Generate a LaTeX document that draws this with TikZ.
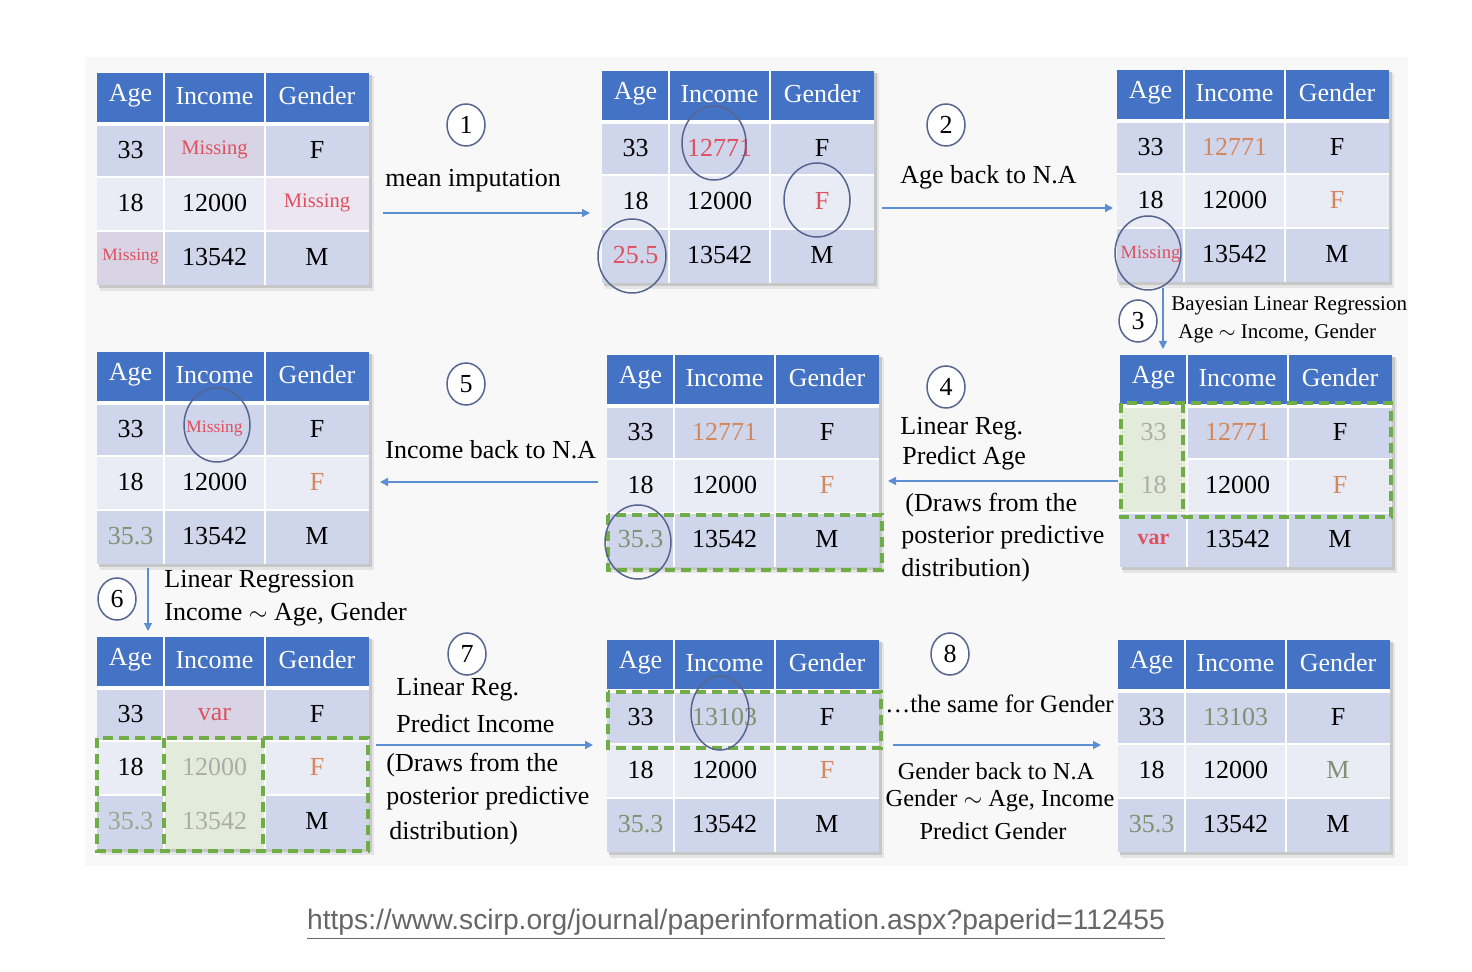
\documentclass[tikz,border=0pt]{standalone}
\usepackage{fontspec}
\setmainfont{Liberation Serif}
\newfontfamily\urlfont{Liberation Sans}
\usetikzlibrary{arrows.meta,calc,shapes.geometric}
\definecolor{hdr}{HTML}{4472C4}
\definecolor{rowa}{HTML}{CFD5EA}
\definecolor{rowb}{HTML}{E9EBF5}
\definecolor{pinka}{HTML}{D8D4E6}
\definecolor{pinkb}{HTML}{EBE6F1}
\definecolor{redt}{HTML}{E0505E}
\definecolor{orgt}{HTML}{D4875A}
\definecolor{grnt}{HTML}{7F9172}
\definecolor{fadet}{HTML}{A9AEA6}
\definecolor{dashg}{HTML}{70AD47}
\definecolor{hlfill}{HTML}{E3ECDA}
\definecolor{ringc}{HTML}{56658F}
\definecolor{arrc}{HTML}{5B8ED3}
\definecolor{urlc}{HTML}{666666}
\definecolor{panel}{HTML}{F8F8F8}
\newcommand\rtx[1]{\textcolor{redt}{#1}}
\newcommand\otx[1]{\textcolor{orgt}{#1}}
\newcommand\gtx[1]{\textcolor{grnt}{#1}}
\newcommand\ftx[1]{\textcolor{fadet}{#1}}
\newcommand\misA{\rtx{\fontsize{10.3}{12}\selectfont Missing}}
\newcommand\misB{\rtx{\fontsize{8.7}{10}\selectfont Missing}}
\newcommand\misC{\rtx{\fontsize{9.3}{11}\selectfont Missing}}
\tikzset{
  cell/.style={font=\fontsize{13}{15}\selectfont, inner sep=0pt},
  hd/.style={cell, text=white},
  lbl/.style={font=\fontsize{13}{15}\selectfont, inner sep=0pt, anchor=west},
  slbl/.style={font=\fontsize{10.5}{12}\selectfont, inner sep=0pt, anchor=west},
  clbl/.style={font=\fontsize{12.2}{13}\selectfont, inner sep=0pt},
  gdash/.style={draw=dashg, line width=2pt, dash pattern=on 5pt off 3pt},
  hl/.style={ellipse, draw=ringc, line width=0.75pt, inner sep=0pt},
  numc/.style={ellipse, draw=ringc, line width=0.75pt, fill=white, inner sep=0pt,
    minimum width=19pt, minimum height=21pt, font=\fontsize{13}{15}\selectfont},
  arr/.style={draw=arrc, line width=0.7pt, -{Triangle[length=4pt,width=4pt]}},
}
\newcommand\mktab[3]{%
  \coordinate (#1) at (#2,#3);
  \begin{scope}[shift={(#2,#3)}]
    \fill[black!10] (3,3) rectangle (277,218);
    \fill[black!22] (2,2) rectangle (275,215);
    \fill[hdr] (0,0) rectangle (272,50);
    \fill[rowa] (0,50) rectangle (272,104);
    \fill[rowb] (0,104) rectangle (272,158);
    \fill[rowa] (0,158) rectangle (272,212);
    \draw[white,line width=1pt] (67,0) -- (67,212) (168,0) -- (168,212)
      (0,104) -- (272,104) (0,158) -- (272,158);
    \draw[white,line width=2pt] (0,51) -- (272,51);
    \node[hd] (#1-h1) at (33.5,23) {Age};
    \node[hd] (#1-h2) at (117.5,23) {Income};
    \node[hd] (#1-h3) at (220,23) {Gender};
    \foreach \cc/\xx in {1/33.5,2/117.5,3/220}{%
      \foreach \rr/\yy in {1/77,2/130,3/184}{%
        \coordinate (#1-p\rr\cc) at (\xx,\yy);}}
  \end{scope}}
\newcommand\trow[5]{%
  \node[cell] (#1-n#21) at (#1-p#21) {#3};
  \node[cell] (#1-n#22) at (#1-p#22) {#4};
  \node[cell] (#1-n#23) at (#1-p#23) {#5};}
\begin{document}
\begin{tikzpicture}[x=0.5pt,y=-0.5pt]
\useasboundingbox (0,0) rectangle (1472,972);
\fill[white] (0,0) rectangle (1472,972);
\fill[panel] (85,57) rectangle (1408,866);

% tables
\mktab{T1}{97}{73}
\mktab{T2}{602}{71}
\mktab{T3}{1117}{70}
\mktab{T4}{97}{352}
\mktab{T5}{607}{355}
\mktab{T6}{1120}{355}
\mktab{T7}{97}{637}
\mktab{T8}{607}{640}
\mktab{T9}{1118}{640}

% tints
\begin{scope}[shift={(97,73)}]
  \fill[pinka] (68,53) rectangle (167,103);
  \fill[pinkb] (169,105) rectangle (272,157);
  \fill[pinka] (0,159) rectangle (66,212);
\end{scope}
\begin{scope}[shift={(1120,355)}]
  \fill[hlfill] (0,53) rectangle (66,157);
\end{scope}
\begin{scope}[shift={(97,637)}]
  \fill[pinka] (68,53) rectangle (167,103);
  \fill[hlfill] (68,105) rectangle (167,212);
\end{scope}

% cell contents
\trow{T1}{1}{33}{\misA}{F}
\trow{T1}{2}{18}{12000}{\misA}
\trow{T1}{3}{\misB}{13542}{M}

\trow{T2}{1}{33}{\rtx{12771}}{F}
\trow{T2}{2}{18}{12000}{\rtx{F}}
\trow{T2}{3}{\rtx{25.5}}{13542}{M}

\trow{T3}{1}{33}{\otx{12771}}{F}
\trow{T3}{2}{18}{12000}{\otx{F}}
\trow{T3}{3}{\misC}{13542}{M}

\trow{T4}{1}{33}{\misB}{F}
\trow{T4}{2}{18}{12000}{\otx{F}}
\trow{T4}{3}{\gtx{35.3}}{13542}{M}

\trow{T5}{1}{33}{\otx{12771}}{F}
\trow{T5}{2}{18}{12000}{\otx{F}}
\trow{T5}{3}{\gtx{35.3}}{13542}{M}

\trow{T6}{1}{\ftx{33}}{\otx{12771}}{F}
\trow{T6}{2}{\ftx{18}}{12000}{\otx{F}}
\trow{T6}{3}{\rtx{\fontsize{11}{12}\selectfont\bfseries var}}{13542}{M}

\trow{T7}{1}{33}{\rtx{var}}{F}
\trow{T7}{2}{18}{\ftx{12000}}{\otx{F}}
\trow{T7}{3}{\textcolor{grnt!80!white}{35.3}}{\ftx{13542}}{M}

\trow{T8}{1}{33}{\gtx{13103}}{F}
\trow{T8}{2}{18}{12000}{\otx{F}}
\trow{T8}{3}{\gtx{35.3}}{13542}{M}

\trow{T9}{1}{33}{\gtx{13103}}{F}
\trow{T9}{2}{18}{12000}{\gtx{M}}
\trow{T9}{3}{\gtx{35.3}}{13542}{M}

% green dashed groups
\draw[gdash] (608,515) rectangle (882,570);
\draw[gdash] (1121,403) rectangle (1391,517);
\draw[gdash] (1183,403) -- (1183,517);
\draw[gdash] (97,738) rectangle (368,851);
\draw[gdash] (164,738) -- (164,851);
\draw[gdash] (263,738) -- (263,851);
\draw[gdash] (608,692) rectangle (881,748);

% highlight rings
\node[hl, minimum width=32pt, minimum height=37pt] (e1) at (714,143) {};
\node[hl, minimum width=33pt, minimum height=37pt] (e2) at (817,200) {};
\node[hl, minimum width=34pt, minimum height=37pt] (e3) at (632,256) {};
\node[hl, minimum width=33pt, minimum height=37pt] (e4) at (1148,253) {};
\node[hl, minimum width=33pt, minimum height=37pt] (e5) at (217,425) {};
\node[hl, minimum width=33pt, minimum height=37pt] (e6) at (638,542) {};
\node[hl, minimum width=29pt, minimum height=37pt] (e7) at (720,713) {};

% step numbers
\node[numc] (c1) at (466,125) {1};
\node[numc] (c2) at (946,125) {2};
\node[numc] (c3) at (1138,321) {3};
\node[numc] (c4) at (946,387) {4};
\node[numc] (c5) at (466,384) {5};
\node[numc] (c6) at (117,599) {6};
\node[numc] (c7) at (467,654) {7};
\node[numc] (c8) at (950,654) {8};

% arrow end points
\coordinate (a1s) at (383,213);  \coordinate (a1e) at (590,213);
\coordinate (a2s) at (882,208);  \coordinate (a2e) at (1113,208);
\coordinate (a3s) at (1163,288); \coordinate (a3e) at (1163,349);
\coordinate (a4s) at (1118,481); \coordinate (a4e) at (888,481);
\coordinate (a5s) at (598,482);  \coordinate (a5e) at (380,482);
\coordinate (a6s) at (148,568);  \coordinate (a6e) at (148,631);
\coordinate (a7s) at (376,745);  \coordinate (a7e) at (593,745);
\coordinate (a8s) at (893,745);  \coordinate (a8e) at (1101,745);
\draw[arr] (a1s) -- (a1e);
\draw[arr] (a2s) -- (a2e);
\draw[arr] (a3s) -- (a3e);
\draw[arr] (a4s) -- (a4e);
\draw[arr] (a5s) -- (a5e);
\draw[arr] (a6s) -- (a6e);
\draw[arr] (a7s) -- (a7e);
\draw[arr] (a8s) -- (a8e);

% labels
\node[lbl] (l1) at (385,181) {mean imputation};
\node[lbl] (l2) at (900,177) {Age back to N.A};
\node[slbl] (l3a) at (1171,306) {Bayesian Linear Regression};
\node[slbl] (l3b) at (1178,333) {Age $\sim$ Income, Gender};
\node[lbl] (l4a) at (900,429) {Linear Reg.};
\node[lbl] (l4b) at (902,458) {Predict Age};
\node[lbl] (l4c) at (905,505) {(Draws from the};
\node[lbl] (l4d) at (901,537) {posterior predictive};
\node[lbl] (l4e) at (901,570) {distribution)};
\node[lbl] (l5) at (385,450) {Income back to N.A};
\node[lbl] (l6a) at (164,582) {Linear Regression};
\node[lbl] (l6b) at (164,614) {Income $\sim$ Age, Gender};
\node[lbl] (l7a) at (396,690) {Linear Reg.};
\node[lbl] (l7b) at (396,724) {Predict Income};
\node[lbl] (l7c) at (386,765) {(Draws from the};
\node[lbl] (l7d) at (386,798) {posterior predictive};
\node[lbl] (l7e) at (389,833) {distribution)};
\node[lbl, font=\fontsize{12.5}{14}\selectfont] (l8a) at (885,704) {…the same for Gender};
\node[clbl] (l8b) at (996,771) {Gender back to N.A};
\node[clbl] (l8c) at (1000,801) {Gender $\sim$ Age, Income};
\node[clbl] (l8d) at (993,831) {Predict Gender};

% source url
\node[inner sep=0pt, text=urlc, font=\urlfont\fontsize{14.1}{16}\selectfont] (url) at (736,924)
  {\underline{https://www.scirp.org/journal/paperinformation.aspx?paperid=112455}};
\end{tikzpicture}
\end{document}
